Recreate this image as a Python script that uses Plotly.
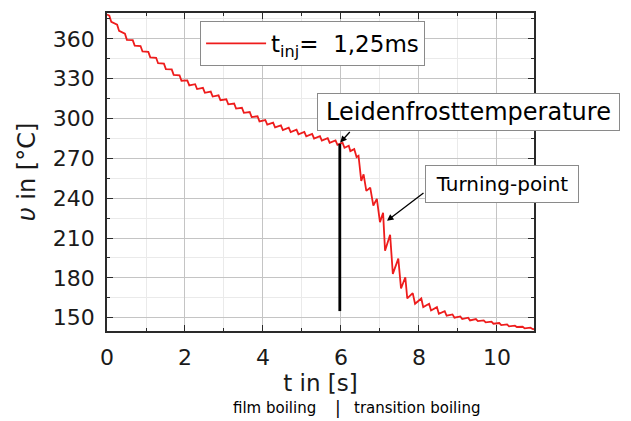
import plotly.graph_objects as go

# ---- data ----
start_point = (0.0, 378.3)
end_point = (10.95, 141.3)

peak_t = [0.06, 0.26, 0.46, 0.66, 0.86, 1.06, 1.26, 1.46, 1.66, 1.86,
          2.06, 2.26, 2.46, 2.66, 2.86, 3.06, 3.26, 3.46, 3.66, 3.86,
          4.06, 4.26, 4.46, 4.66, 4.86, 5.06, 5.26, 5.46, 5.66, 5.86,
          6.04, 6.20, 6.34, 6.45, 6.58, 6.75, 6.92, 7.08, 7.26, 7.47,
          7.65, 7.84, 8.06, 8.26, 8.46, 8.66, 8.86, 9.06, 9.26, 9.46,
          9.66, 9.86, 10.06, 10.26, 10.46, 10.66, 10.86]
peak_T = [377.5, 370.7, 363.9, 359.0, 354.6, 350.2, 345.8, 341.4, 337.0, 332.6,
          328.7, 325.9, 323.1, 320.3, 317.5, 314.5, 311.3, 308.1, 304.9, 301.7,
          298.9, 296.9, 294.9, 293.2, 291.6, 290.0, 288.4, 286.8, 285.2, 283.6,
          281.8, 279.5, 277.0, 272.0, 258.0, 248.0, 239.5, 229.0, 212.5, 194.5,
          180.5, 168.5, 164.5, 160.5, 158.0, 155.0, 152.5, 151.0, 150.0, 149.0,
          148.0, 147.0, 146.0, 145.0, 144.0, 143.2, 142.5]
trough_t = [0.11, 0.31, 0.51, 0.71, 0.91, 1.11, 1.31, 1.51, 1.71, 1.91,
            2.11, 2.31, 2.51, 2.71, 2.91, 3.11, 3.31, 3.51, 3.71, 3.91,
            4.11, 4.31, 4.51, 4.71, 4.91, 5.11, 5.31, 5.51, 5.71, 5.91,
            6.09, 6.24, 6.40, 6.52, 6.65, 6.83, 7.00, 7.13, 7.33, 7.54,
            7.70, 7.90, 8.11, 8.31, 8.51, 8.71, 8.91, 9.11, 9.31, 9.51,
            9.71, 9.91, 10.11, 10.31, 10.51, 10.71, 10.91]
trough_T = [372.8, 366.0, 359.3, 354.9, 350.5, 346.1, 341.7, 337.3, 332.9, 328.5,
            325.0, 322.2, 319.4, 316.6, 313.8, 310.7, 307.5, 304.3, 301.1, 297.9,
            295.4, 293.4, 291.4, 289.8, 288.2, 286.6, 285.0, 283.4, 281.8, 280.2,
            278.0, 275.5, 271.0, 253.0, 245.5, 234.5, 222.0, 200.5, 183.0, 172.0,
            164.5, 160.5, 158.0, 155.5, 153.0, 151.5, 150.0, 149.0, 148.0, 147.5,
            146.5, 145.5, 144.5, 143.5, 143.0, 142.0, 141.5]

leidenfrost_t = 5.97
leidenfrost_line_T = [281.0, 155.0]
leidenfrost_point = (5.98, 282.0)
turning_point = (7.18, 223.0)

x_ticks = [0, 2, 4, 6, 8, 10]
y_ticks = [150, 180, 210, 240, 270, 300, 330, 360]

# ---- build series ----
t_vals = [start_point[0]]
T_vals = [start_point[1]]
for pt, pT, tt, tT in zip(peak_t, peak_T, trough_t, trough_T):
    t_vals += [pt, tt]
    T_vals += [pT, tT]
t_vals.append(end_point[0])
T_vals.append(end_point[1])

FONT = "DejaVu Sans"
AX = "#2a2a2a"

fig = go.Figure()
fig.add_trace(go.Scatter(
    x=t_vals, y=T_vals, mode="lines",
    line=dict(color="#ee1c1c", width=1.8),
    name="t<sub>inj</sub>=  1,25ms",
))
fig.add_trace(go.Scatter(
    x=[leidenfrost_t, leidenfrost_t], y=leidenfrost_line_T, mode="lines",
    line=dict(color="black", width=2.8), showlegend=False, hoverinfo="skip",
))

axis_common = dict(
    showline=True, linecolor=AX, linewidth=1.5, mirror="ticks",
    ticks="inside", ticklen=6, tickwidth=1.3, tickcolor=AX,
    showgrid=True, gridcolor="#c4c4c4", gridwidth=1, zeroline=False,
    tickfont=dict(family=FONT, size=22, color="#1a1a1a"),
    automargin=False,
)
fig.update_xaxes(
    range=[0, 10.95], tickvals=x_ticks, **axis_common,
    minor=dict(dtick=1, tick0=0, ticks="inside", ticklen=3.5, tickcolor=AX,
               showgrid=True, gridcolor="#eaeaea"),
    ticklabelstandoff=6,
    title=dict(text="t in [s]", font=dict(family=FONT, size=23, color="#1a1a1a"), standoff=4),
)
fig.update_yaxes(
    range=[140, 379.5], tickvals=y_ticks, **axis_common,
    minor=dict(dtick=15, tick0=0, ticks="inside", ticklen=3.5, tickcolor=AX,
               showgrid=True, gridcolor="#eaeaea"),
    ticklabelstandoff=6,
    title=dict(text="<i>υ</i> in [°C]", font=dict(family=FONT, size=24, color="#1a1a1a"), standoff=10),
)

fig.add_annotation(x=leidenfrost_point[0], y=leidenfrost_point[1], xref="x", yref="y",
                   ax=11, ay=-12, text="", showarrow=True, arrowhead=2, arrowsize=1,
                   arrowwidth=1.3, arrowcolor="black")
fig.add_annotation(x=turning_point[0], y=turning_point[1], xref="x", yref="y",
                   ax=38, ay=-29, text="", showarrow=True, arrowhead=2, arrowsize=1,
                   arrowwidth=1.3, arrowcolor="black")
fig.add_annotation(x=0.847, y=0.689, xref="paper", yref="paper", showarrow=False,
                   xanchor="center", yanchor="middle",
                   text="Leidenfrosttemperature", font=dict(family=FONT, size=24, color="black"),
                   bgcolor="white", bordercolor="#8a8a8a", borderwidth=1, width=299, height=34)
fig.add_annotation(x=0.926, y=0.461, xref="paper", yref="paper", showarrow=False,
                   xanchor="center", yanchor="middle",
                   text="Turning-point", font=dict(family=FONT, size=20, color="black"),
                   bgcolor="white", bordercolor="#8a8a8a", borderwidth=1, width=150, height=34)

fig.add_annotation(x=0.494, y=-0.242, xref="paper", yref="paper", showarrow=False,
                   xanchor="right", yanchor="middle",
                   text="film boiling", font=dict(family=FONT, size=15, color="black"))
fig.add_annotation(x=0.541, y=-0.242, xref="paper", yref="paper", showarrow=False,
                   xanchor="center", yanchor="middle",
                   text="|", font=dict(family=FONT, size=17, color="black"))
fig.add_annotation(x=0.574, y=-0.242, xref="paper", yref="paper", showarrow=False,
                   xanchor="left", yanchor="middle",
                   text="transition boiling", font=dict(family=FONT, size=15, color="black"))

# the page body adds an 8px offset, so the figure is sized 8px smaller
fig.update_layout(
    width=623, height=413,
    margin=dict(l=99, r=97, t=5, b=90, autoexpand=False),
    plot_bgcolor="white", paper_bgcolor="white",
    font=dict(family=FONT),
    showlegend=True,
    legend=dict(x=0.218, y=0.975, xanchor="left", yanchor="top",
                bgcolor="white", bordercolor="#8a8a8a", borderwidth=1,
                font=dict(family=FONT, size=23, color="black"),
                itemwidth=60),
)

fig.write_html("out.html")
